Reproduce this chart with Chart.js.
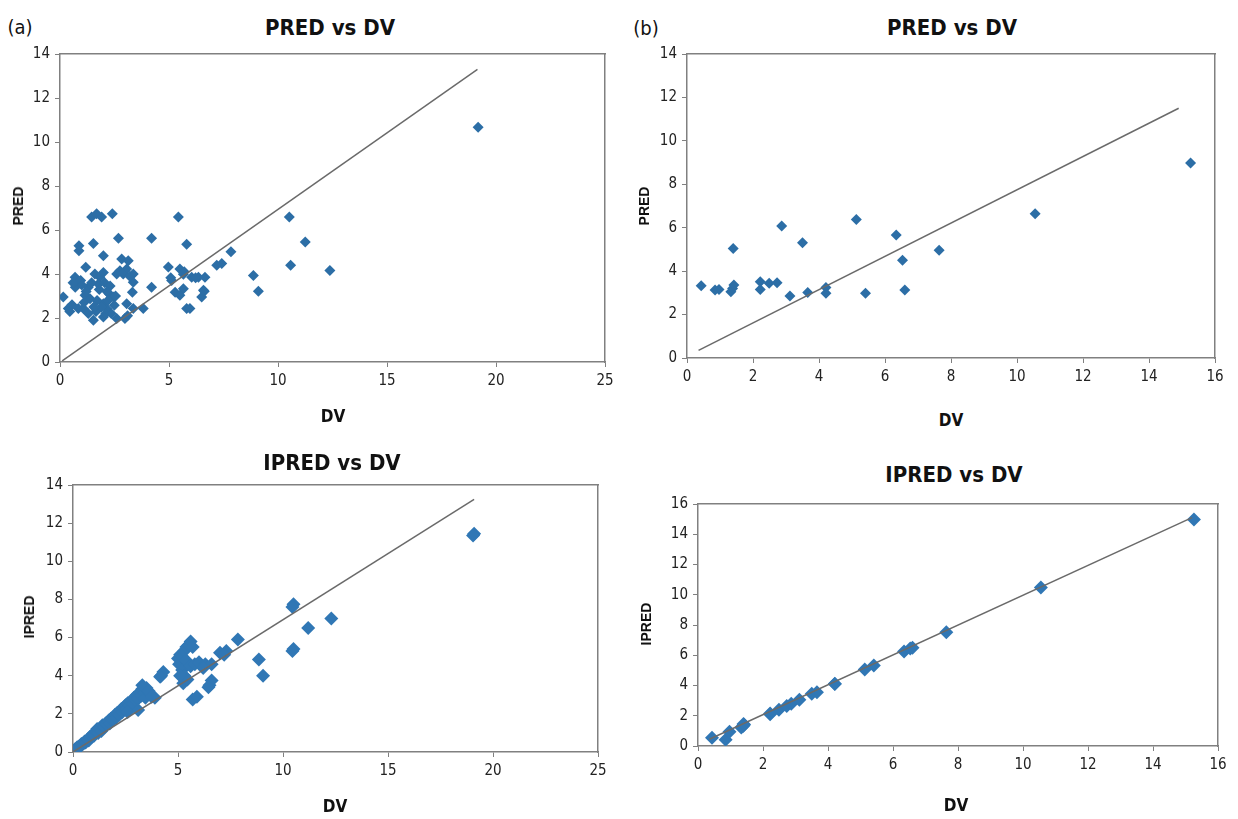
<!DOCTYPE html>
<html>
<head>
<meta charset="utf-8">
<script src="https://cdn.jsdelivr.net/npm/chart.js@4.4.1/dist/chart.umd.min.js"></script>
<style>
  body { margin: 0; background: #fff; width: 1238px; height: 819px; position: relative; overflow: hidden; }
  canvas { position: absolute; }
  .t { position: absolute; transform: translate(-50%, -50%); white-space: nowrap; color: #111;
       font-family: "Liberation Sans Narrow", "DejaVu Sans Condensed", "Liberation Sans", sans-serif; }
  .title { font-size: 22px; font-weight: bold; }
  .panel { font-size: 20px; }
  .xt { font-size: 17px; font-weight: bold; }
  .yt { font-family: "Liberation Sans", Arial, sans-serif; font-size: 14px; font-weight: bold;
        transform: translate(-50%, -50%) rotate(-90deg); }
</style>
</head>
<body>
<canvas id="a1" width="610" height="370" style="left:15px;top:40px"></canvas>
<canvas id="b1" width="596" height="370" style="left:642px;top:40px"></canvas>
<canvas id="a2" width="592" height="345" style="left:28px;top:471px"></canvas>
<canvas id="b2" width="585" height="326" style="left:653px;top:490px"></canvas>

<div class="t panel" style="left:20px;top:27px">(a)</div>
<div class="t panel" style="left:646px;top:28px">(b)</div>
<div class="t title" style="left:330px;top:27px">PRED vs DV</div>
<div class="t title" style="left:952px;top:27px">PRED vs DV</div>
<div class="t title" style="left:332px;top:462px">IPRED vs DV</div>
<div class="t title" style="left:954px;top:474px">IPRED vs DV</div>
<div class="t xt" style="left:333px;top:416px">DV</div>
<div class="t xt" style="left:951px;top:420px">DV</div>
<div class="t xt" style="left:335px;top:806px">DV</div>
<div class="t xt" style="left:956px;top:805px">DV</div>
<div class="t yt" style="left:18px;top:206px">PRED</div>
<div class="t yt" style="left:644px;top:206px">PRED</div>
<div class="t yt" style="left:29px;top:617px">IPRED</div>
<div class="t yt" style="left:646px;top:624px">IPRED</div>

<script>
// (a) PRED vs DV
const dvA1 = [1.45, 1.68, 1.91, 2.40, 5.43, 10.52, 2.68, 4.20, 1.53, 5.81, 0.87, 0.87, 1.99, 7.84, 1.18,
  2.83, 3.13, 4.97, 7.19, 7.42, 2.75, 3.06, 3.36, 5.50, 5.66, 6.04, 6.35, 6.65, 8.87, 5.12,
  0.69, 0.84, 1.60, 1.83, 1.99, 1.30, 1.76, 3.36, 4.20, 5.28, 5.50, 5.66, 6.58, 6.50, 3.32,
  2.25, 2.45, 9.10, 0.15, 1.15, 1.38, 3.06, 0.38, 0.84, 1.07, 1.99, 2.14, 2.49, 3.36, 3.82,
  5.81, 5.96, 1.53, 1.99, 2.60, 2.98, 1.30, 11.25, 10.58, 12.38, 19.18,
  0.55, 0.70, 0.95, 1.10, 1.20, 1.45, 1.70, 1.80, 2.05, 2.20, 2.10, 1.65, 2.35, 0.60, 1.00,
  2.30, 2.90, 3.20, 2.60, 1.90, 1.55, 2.15, 3.10, 0.45, 2.55, 5.08, 6.22, 6.62, 5.70];
const predA1 = [6.59, 6.74, 6.59, 6.74, 6.59, 6.59, 5.63, 5.63, 5.39, 5.35, 5.28, 5.06, 4.83, 5.01, 4.31,
  4.68, 4.60, 4.32, 4.40, 4.48, 4.15, 4.23, 4.00, 4.23, 3.99, 3.85, 3.85, 3.85, 3.93, 3.71,
  3.85, 3.63, 4.00, 3.85, 4.07, 3.40, 3.55, 3.63, 3.40, 3.17, 3.03, 3.33, 3.26, 2.95, 3.17,
  3.10, 2.95, 3.22, 2.95, 3.03, 2.88, 2.65, 2.43, 2.43, 2.43, 2.65, 2.43, 2.58, 2.43, 2.43,
  2.43, 2.43, 1.90, 2.05, 1.98, 1.98, 2.20, 5.46, 4.40, 4.16, 10.67,
  2.60, 3.40, 3.70, 2.70, 3.20, 3.60, 2.80, 3.30, 3.60, 2.80, 2.20, 2.30, 2.20, 3.60, 3.50,
  3.45, 4.00, 3.90, 4.00, 2.50, 2.50, 3.20, 2.10, 2.30, 3.00, 3.83, 3.83, 3.22, 4.10];
const lineA1X = [0.1, 19.15];
const lineA1Y = [0.05, 13.3];

// (a) IPRED vs DV
const dvA2 = [0.05, 0.10, 0.15, 0.20, 0.25, 0.30, 0.35, 0.40, 0.50, 0.55, 0.60, 0.70, 0.75, 0.80, 0.90,
  0.95, 1.00, 1.10, 1.15, 1.20, 1.30, 1.35, 1.40, 1.50, 1.55, 1.60, 1.70, 1.75, 1.80, 1.90,
  2.00, 2.05, 2.10, 2.20, 2.30, 2.35, 2.40, 2.50, 2.55, 2.60, 2.70, 2.80, 2.85, 2.90, 3.00,
  3.05, 3.10, 3.20, 3.25, 3.30, 3.40, 3.50, 3.45, 3.70, 3.90, 3.10, 2.60, 3.30, 3.60, 3.75,
  4.20, 4.30, 4.15, 5.00, 5.05, 5.10, 5.20, 5.30, 5.40, 5.50, 5.60, 5.70, 5.20, 5.30, 5.40,
  5.60, 5.25, 5.45, 5.10, 5.80, 6.00, 6.30, 6.60, 6.20, 5.70, 5.90, 6.50, 6.60, 6.45, 7.00,
  7.30, 7.20, 7.85, 8.85, 9.05, 10.50, 10.45, 10.50, 10.45, 11.20, 12.30, 19.10, 19.05];
const ipredA2 = [0.05, 0.15, 0.10, 0.25, 0.20, 0.30, 0.30, 0.42, 0.45, 0.55, 0.50, 0.65, 0.60, 0.78, 0.80,
  0.95, 0.85, 1.05, 1.20, 1.00, 1.25, 1.10, 1.40, 1.30, 1.50, 1.45, 1.65, 1.50, 1.75, 1.70,
  1.95, 1.80, 2.05, 1.95, 2.25, 2.10, 2.30, 2.45, 2.25, 2.55, 2.45, 2.70, 2.55, 2.85, 2.70,
  3.00, 2.80, 3.15, 2.95, 3.30, 3.10, 3.35, 2.85, 3.00, 2.85, 2.20, 2.10, 3.50, 3.20, 2.90,
  4.00, 4.20, 3.95, 4.90, 4.60, 5.10, 5.00, 5.30, 5.50, 5.60, 5.80, 5.50, 4.30, 4.00, 4.80,
  4.50, 3.60, 3.80, 4.00, 4.60, 4.70, 4.60, 4.60, 4.40, 2.75, 2.90, 3.50, 3.75, 3.40, 5.20,
  5.30, 5.10, 5.90, 4.85, 4.00, 7.75, 7.60, 5.40, 5.30, 6.50, 7.00, 11.45, 11.35];
const lineA2X = [0, 19.1];
const lineA2Y = [0, 13.25];

// (b) PRED and IPRED vs DV
const dvB = [0.43, 0.85, 0.97, 1.33, 1.38, 1.40, 1.42, 2.22, 2.22, 2.49, 2.73, 2.87, 3.12, 3.50, 3.66,
  4.21, 4.21, 5.13, 5.41, 6.34, 6.53, 6.60, 7.64, 10.55, 15.26];
const predB = [3.33, 3.13, 3.16, 3.05, 3.20, 5.04, 3.36, 3.51, 3.16, 3.44, 3.47, 6.08, 2.85, 5.31, 3.02,
  3.25, 2.98, 6.38, 2.98, 5.66, 4.50, 3.13, 4.96, 6.64, 8.98];
const ipredB = [0.55, 0.42, 0.94, 1.22, 1.30, 1.45, 1.40, 2.10, 2.15, 2.40, 2.65, 2.80, 3.05, 3.45, 3.55,
  4.10, 4.12, 5.05, 5.32, 6.25, 6.45, 6.50, 7.52, 10.48, 14.97];
const lineB1X = [0.35, 14.9];
const lineB1Y = [0.35, 11.5];
const lineB2X = [0.35, 15.2];
const lineB2Y = [0.45, 15.1];

// tick labels
const xTicksA = [0, 5, 10, 15, 20, 25];
const xTicksB = [0, 2, 4, 6, 8, 10, 12, 14, 16];
const yTicks14 = [0, 2, 4, 6, 8, 10, 12, 14];
const yTicks16 = [0, 2, 4, 6, 8, 10, 12, 14, 16];

const zip = (xs, ys) => xs.map((x, i) => ({ x, y: ys[i] }));
const tickFont = { family: '"Liberation Sans Narrow", "DejaVu Sans Condensed", "Liberation Sans", sans-serif', size: 15 };
const frame = { color: '#808080', width: 1.5 };

function plot(id, o) {
  const setTicks = (arr) => (s) => { s.ticks = arr.map((v) => ({ value: v })); };
  new Chart(document.getElementById(id), {
    type: "scatter",
    data: {
      datasets: [
        { data: zip(o.lineX, o.lineY), showLine: true, borderColor: "#6a6a6a", borderWidth: 1.5, pointRadius: 0 },
        { data: zip(o.xs, o.ys), pointStyle: "rectRot", pointRadius: o.r, backgroundColor: o.color, borderWidth: 0 },
      ],
    },
    options: {
      animation: false,
      responsive: false,
      events: [],
      layout: { padding: 0 },
      plugins: { legend: { display: false }, tooltip: { enabled: false } },
      scales: {
        x: {
          type: "linear", position: "bottom", min: 0, max: o.xTicks[o.xTicks.length - 1],
          afterBuildTicks: setTicks(o.xTicks),
          ticks: { color: "#222", font: tickFont, padding: 5, maxRotation: 0 },
          grid: { drawOnChartArea: false, tickLength: 5, color: "#808080" },
          border: frame,
          afterFit: (s) => { s.height = o.pad[3]; },
        },
        y: {
          type: "linear", position: "left", min: 0, max: o.yTicks[o.yTicks.length - 1],
          afterBuildTicks: setTicks(o.yTicks),
          ticks: { color: "#222", font: tickFont, padding: 5 },
          grid: { drawOnChartArea: false, tickLength: 5, color: "#808080" },
          border: frame,
          afterFit: (s) => { s.width = o.pad[0]; },
        },
        x2: {
          axis: "x", type: "linear", position: "top",
          ticks: { display: false }, grid: { display: false }, border: frame,
          afterFit: (s) => { s.height = o.pad[1]; },
        },
        y2: {
          axis: "y", type: "linear", position: "right",
          ticks: { display: false }, grid: { display: false }, border: frame,
          afterFit: (s) => { s.width = o.pad[2]; },
        },
      },
    },
  });
}

// pad = [left, top, right, bottom] around the plot area inside each canvas
plot("a1", { xs: dvA1, ys: predA1, lineX: lineA1X, lineY: lineA1Y, xTicks: xTicksA, yTicks: yTicks14,
  r: 5.5, color: "#2c6ea6", pad: [45, 12, 20, 48] });
plot("b1", { xs: dvB, ys: predB, lineX: lineB1X, lineY: lineB1Y, xTicks: xTicksB, yTicks: yTicks14,
  r: 5.5, color: "#2c6ea6", pad: [45, 12, 23, 52] });
plot("a2", { xs: dvA2, ys: ipredA2, lineX: lineA2X, lineY: lineA2Y, xTicks: xTicksA, yTicks: yTicks14,
  r: 7, color: "#3077b5", pad: [45, 12, 22, 64] });
plot("b2", { xs: dvB, ys: ipredB, lineX: lineB2X, lineY: lineB2Y, xTicks: xTicksB, yTicks: yTicks16,
  r: 7, color: "#3077b5", pad: [45, 12, 20, 70] });
</script>
</body>
</html>
